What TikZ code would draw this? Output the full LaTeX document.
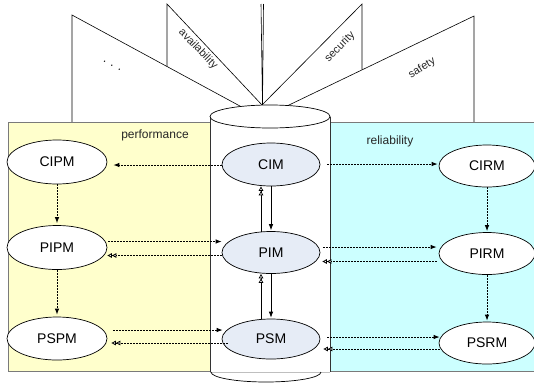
\documentclass[tikz,border=0pt]{standalone}
\usepackage{fontspec}
\setmainfont{Liberation Sans}
\usetikzlibrary{arrows.meta,shapes.geometric,calc}
\definecolor{yel}{HTML}{FFFFCC}
\definecolor{cya}{HTML}{CCFFFF}
\definecolor{mdl}{HTML}{E6ECF6}
\definecolor{bordgray}{HTML}{7A7A7A}
\begin{document}
\begin{tikzpicture}[x=1pt,y=-1pt,
  model/.style={ellipse,draw=black,line width=0.7pt,fill=white,inner sep=0pt,
    minimum width=100pt,minimum height=44pt,font=\fontsize{14}{16}\selectfont},
  core/.style={model,fill=mdl,minimum width=98pt,minimum height=42pt},
  rmodel/.style={model,minimum width=96pt,minimum height=42pt},
  dl/.style={line width=0.85pt,dash pattern=on 2pt off 1pt},
  sl/.style={line width=0.7pt},
  ah/.style={-{Latex[length=6pt,width=4.5pt]}},
  oh/.style={-{Triangle[open,fill=white,length=4.5pt,width=4.5pt]Triangle[open,fill=white,length=4.5pt,width=4.5pt]}},
  fan/.style={line width=0.6pt},
  lab/.style={font=\fontsize{12}{14}\selectfont,text=black!85},
  flab/.style={font=\fontsize{11}{13}\selectfont,text=black!85}]
\useasboundingbox (0,0) rectangle (534,383);
% fan panels
\coordinate (apexA) at (262,118);
\coordinate (apexB) at (262,105);
\draw[fan] (72,122) -- (72,15) -- (apexA);
\draw[fan] (167,66.5) -- (167,4) -- (apexB);
\draw[fan] (261,4) -- (262.5,105) -- (263.5,4);
\draw[fan] (362,69.5) -- (362,4) -- (apexB);
\draw[fan] (474,122) -- (474,16) -- (apexA);
\node[flab,rotate=-46] (tav) at (198,49) {availability};
\node[flab,rotate=46] (tse) at (340,47) {security};
\node[flab,rotate=32] (tsa) at (422,68) {safety};
\node[font=\fontsize{12}{14}\selectfont,rotate=-29] (tdots) at (112,66) {.\kern5pt.\kern5pt.};
% boxes
\draw[fill=yel,draw=bordgray,line width=1pt] (8,122) rectangle (210,371.5);
\draw[fill=cya,draw=bordgray,line width=1pt] (330,122) rectangle (536,371.5);
% cylinder
\fill[white] (210.5,116.5) rectangle (329.5,371);
\draw[line width=0.8pt,black!80] (210,116.5) -- (210,371.5);
\draw[line width=0.8pt,black!80] (330,116.5) -- (330,371.5);
\draw[line width=0.8pt,black!25] (210,372) -- (330,372);
\draw[line width=0.7pt] (266,372) ++(-55,0) arc[start angle=180,end angle=0,x radius=55,y radius=10];
\draw[fill=white,line width=0.7pt] (270,116.5) ellipse[x radius=60,y radius=11.5];
% labels
\node[lab] (perf) at (155,135) {performance};
\node[lab] (rel) at (390,141) {reliability};
% nodes
\node[model] (CIPM) at (57,162) {CIPM};
\node[model] (PIPM) at (57,247.5) {PIPM};
\node[model,minimum height=43pt] (PSPM) at (57,338.5) {PSPM};
\node[core,minimum height=43pt] (CIM) at (271,164.5) {CIM};
\node[core] (PIM) at (271,252.5) {PIM};
\node[core,minimum height=40pt] (PSM) at (271,339) {PSM};
\node[rmodel] (CIRM) at (487,166) {CIRM};
\node[rmodel] (PIRM) at (487,253.5) {PIRM};
\node[rmodel] (PSRM) at (487,343) {PSRM};
% left connectors
\draw[dl,ah] ($(CIM.west)+(0,0.5)$) -- ($(CIPM.east)+(6,3)$);
\draw[dl,ah] (CIPM.south) -- ($(PIPM.north)+(0,-2)$);
\draw[dl,ah] ($(PIPM.east)+(1,-6)$) -- ($(PIM.west)+(0,-11)$);
\draw[dl,oh] ($(PIM.west)+(0,3)$) -- ($(PIPM.east)+(0,8)$);
\draw[dl,ah] (PIPM.south) -- ($(PSPM.north)+(0,-2)$);
\draw[dl,ah] ($(PSPM.east)+(6,-8.5)$) -- ($(PSM.west)+(1,-9)$);
\draw[dl,oh] ($(PSM.west)+(6,4)$) -- ($(PSPM.east)+(4,4.5)$);
% right connectors
\draw[dl,ah] ($(CIM.east)+(7,-0.5)$) -- ($(CIRM.west)+(-1,-2)$);
\draw[dl,ah] (CIRM.south) -- ($(PIRM.north)+(0,-1)$);
\draw[dl,ah] ($(PIM.east)+(3,-5.5)$) -- ($(PIRM.west)+(-2,-6.5)$);
\draw[dl,oh] ($(PIRM.west)+(-2,8)$) -- ($(PIM.east)+(2,9)$);
\draw[dl,ah] (PIRM.south) -- ($(PSRM.north)+(0,-1)$);
\draw[dl,ah] ($(PSM.east)+(7,-2)$) -- ($(PSRM.west)+(1,-6)$);
\draw[dl,oh] ($(PSRM.west)+(1,6)$) -- ($(PSM.east)+(3,10)$);
% central connectors
\draw[sl,oh] ($(PIM.north)+(-10,0.5)$) -- ($(CIM.south)+(-10,0)$);
\draw[sl,ah] (CIM.south) -- ($(PIM.north)+(0,-1)$);
\draw[sl,ah] (PIM.south) -- ($(PSM.north)+(0,-1)$);
\draw[sl,oh] ($(PSM.north)+(-10,0.5)$) -- ($(PIM.south)+(-10,0)$);
\end{tikzpicture}
\end{document}
